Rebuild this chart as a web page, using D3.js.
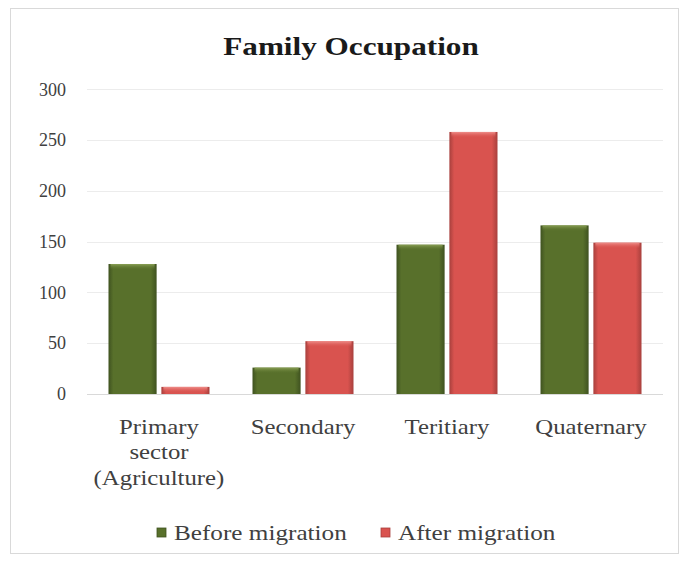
<!DOCTYPE html>
<html><head><meta charset="utf-8">
<script src="https://cdn.jsdelivr.net/npm/d3@7"></script>
<style>body{margin:0;background:#fff}svg{display:block}</style>
</head><body><svg id="c" width="691" height="564"></svg>
<script>
const categories = [["Primary","sector","(Agriculture)"],["Secondary"],["Teritiary"],["Quaternary"]];
const seriesNames = ["Before migration","After migration"];
const before = [128, 26, 147, 166];
const after = [7, 52, 258, 149];
const yTicks = [0,50,100,150,200,250,300];

const svg = d3.select("#c");
const font = "'Liberation Serif','Times New Roman',serif";
const colors = [{base:"#58702b",dark:"#3f5220",light:"#8aa055"},{base:"#d9534f",dark:"#a8403d",light:"#ef8f8b"}];

// frame
svg.append("rect").attr("x",10.5).attr("y",8.5).attr("width",668).attr("height",545)
  .attr("fill","#fff").attr("stroke","#d9d9d9").attr("stroke-width",1);

const defs = svg.append("defs");
colors.forEach((c,i)=>{
  const g = defs.append("linearGradient").attr("id","g"+i).attr("x1","0").attr("x2","1").attr("y1","0").attr("y2","0");
  g.append("stop").attr("offset","0").attr("stop-color",c.dark);
  g.append("stop").attr("offset","0.1").attr("stop-color",c.base);
  g.append("stop").attr("offset","0.88").attr("stop-color",c.base);
  g.append("stop").attr("offset","1").attr("stop-color",c.dark);
  const t = defs.append("linearGradient").attr("id","t"+i).attr("x1","0").attr("x2","0").attr("y1","0").attr("y2","1");
  t.append("stop").attr("offset","0").attr("stop-color",c.light);
  t.append("stop").attr("offset","1").attr("stop-color",c.base).attr("stop-opacity",0);
});

const x = d3.scaleBand().domain(d3.range(categories.length)).range([87,663]);
const y = d3.scaleLinear().domain([0,300]).range([394,89.3]);
const x1 = d3.scaleBand().domain([0,1]).range([21.5,122.5]).paddingInner(0.09);

// gridlines
svg.append("g").selectAll("line").data(yTicks).join("line")
  .attr("x1",87).attr("x2",663).attr("y1",d=>Math.round(y(d))+0.5).attr("y2",d=>Math.round(y(d))+0.5)
  .attr("stroke","#ececec").attr("stroke-width",1);

// y axis
const ya = svg.append("g").attr("transform","translate(70,0)")
  .call(d3.axisLeft(y).tickValues(yTicks).tickSize(0).tickPadding(4));
ya.select(".domain").remove();
ya.selectAll("text").attr("font-family",font).attr("font-size",18).attr("fill","#404040");

// bars
const data = [before, after];
data.forEach((vals,s)=>{
  const g = svg.append("g");
  const bx = (d,i)=>x(i)+x1(s);
  g.selectAll("rect.b").data(vals).join("rect").attr("class","b")
    .attr("x",bx).attr("y",d=>y(d)).attr("width",x1.bandwidth()).attr("height",d=>y(0)-y(d))
    .attr("fill","url(#g"+s+")");
  g.selectAll("rect.t").data(vals).join("rect").attr("class","t")
    .attr("x",(d,i)=>bx(d,i)+2).attr("y",d=>y(d)).attr("width",x1.bandwidth()-4).attr("height",d=>Math.min(6,y(0)-y(d)))
    .attr("fill","url(#t"+s+")");
});

// baseline
svg.append("line").attr("x1",87).attr("x2",663).attr("y1",394.5).attr("y2",394.5).attr("stroke","#d9d9d9");

// x labels
const xl = svg.append("g");
categories.forEach((lines,i)=>{
  const cx = x(i)+x.bandwidth()/2;
  const t = xl.append("text").attr("transform",`translate(${cx},434) scale(1.24,1)`)
    .attr("text-anchor","middle").attr("font-family",font).attr("font-size",20).attr("fill","#404040");
  lines.forEach((l,j)=>t.append("tspan").attr("x",0).attr("dy",j?25.5:0).text(l));
});

// title
svg.append("text").attr("transform","translate(351,55) scale(1.2,1)").attr("text-anchor","middle")
  .attr("font-family",font).attr("font-weight","bold").attr("font-size",26).attr("fill","#1a1a1a")
  .text("Family Occupation");

// legend
const legX = [157, 381];
seriesNames.forEach((n,i)=>{
  svg.append("rect").attr("x",legX[i]).attr("y",528).attr("width",9).attr("height",9).attr("fill",colors[i].base)
    .attr("stroke",colors[i].dark).attr("stroke-width",0.8);
  svg.append("text").attr("transform",`translate(${legX[i]+17},540) scale(1.26,1)`)
    .attr("font-family",font).attr("font-size",20).attr("fill","#404040").text(n);
});
</script></body></html>
